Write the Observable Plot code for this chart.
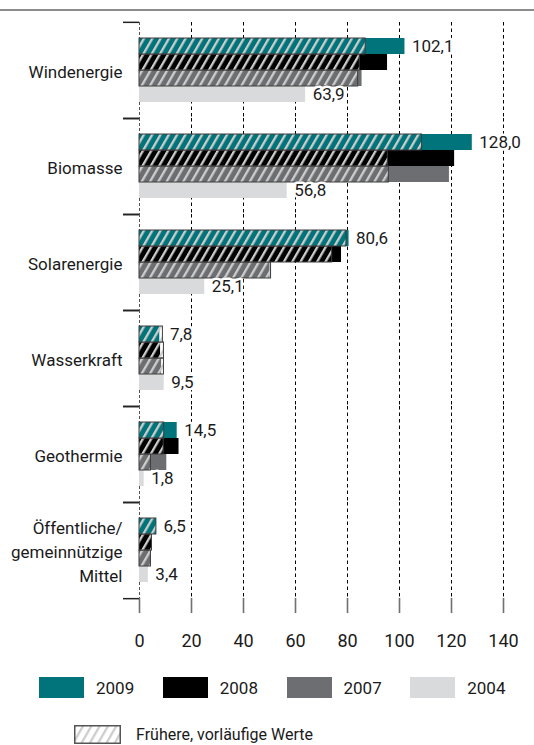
<!DOCTYPE html>
<html><head><meta charset="utf-8">
<script src="https://cdn.jsdelivr.net/npm/d3@7"></script>
<script src="https://cdn.jsdelivr.net/npm/@observablehq/plot@0.6"></script>
<style>
body{margin:0;background:#fff;font-family:Roboto,sans-serif;color:#1a1a1a;}
#wrap{width:534px;}
#topline{margin-top:9px;border-top:2px solid #8c8c8c;}
#chart svg{display:block;}
.legend{display:flex;align-items:center;font-size:17px;}
.item{display:flex;align-items:center;width:124.7px;}
.sw{width:45px;height:21px;margin-right:12px;flex:none;}
</style></head><body>
<div id="wrap">
<div id="topline"></div>
<div id="chart"></div>
<div class="legend" id="leg1" style="margin-top:16px;padding-left:39px;height:21px"></div>
<div class="legend" id="leg2" style="margin-top:27px;padding-left:74px;height:19px;font-size:16px"></div>
</div>
<script>
const categories = ["Windenergie","Biomasse","Solarenergie","Wasserkraft","Geothermie","Öffentliche/\ngemeinnützige\nMittel"];
const years = ["2009","2008","2007","2004"];
const colors = ["#00747a","#000000","#6d6e71","#d9dadb"];
const xTicks = [0,20,40,60,80,100,120,140];

// current values
const values2009 = [102.1, 128.0, 80.6, 7.8, 14.5, 6.5];
const values2008 = [95.4, 121.2, 77.7, 8.1, 15.2, 4.8];
const values2007 = [85.6, 119.2, 50.2, 8.5, 10.5, 4.4];
const values2004 = [63.9, 56.8, 25.1, 9.5, 1.8, 3.4];
// earlier, preliminary values (hatched)
const earlier2009 = [87.0, 108.7, 79.6, 9.0, 9.5, 6.5];
const earlier2008 = [84.7, 95.5, 74.1, 9.4, 9.3, 4.8];
const earlier2007 = [84.1, 95.9, 50.6, 9.4, 4.4, 4.4];

const current = {"2009": values2009, "2008": values2008, "2007": values2007, "2004": values2004};
const earlier = {"2009": earlier2009, "2008": earlier2008, "2007": earlier2007};

const bars = years.flatMap(yr => categories.map((c, i) => ({cat: c, year: yr, value: current[yr][i]})));
const prelim = Object.keys(earlier).flatMap(yr => categories.map((c, i) => ({cat: c, year: yr, value: earlier[yr][i]})));
const fmt = v => v.toFixed(1).replace(".", ",");
const labels = [
  ...categories.map((c, i) => ({cat: c, year: "2009", x: Math.max(values2009[i], earlier2009[i]), text: fmt(values2009[i])})),
  ...categories.map((c, i) => ({cat: c, year: "2004", x: values2004[i], text: fmt(values2004[i])}))
];

const W = 534, H = 650, mt = 10, mb = 62, ml = 139, mr = 31;
const bw = (H - mt - mb) / categories.length;

const svg = Plot.plot({
  width: W, height: H, marginTop: mt, marginBottom: mb, marginLeft: ml, marginRight: mr,
  style: {fontFamily: "Roboto, sans-serif", fontSize: "17px", color: "#1a1a1a", background: "#fff"},
  x: {domain: [0, 140], axis: null},
  y: {domain: years, paddingInner: 0, paddingOuter: 0.85, axis: null},
  fy: {domain: categories, padding: 0, axis: null},
  color: {domain: years, range: colors},
  marks: [
    Plot.gridX(xTicks.slice(1), {stroke: "#000", strokeOpacity: 1, strokeDasharray: "3.5,3"}),
    Plot.gridX([0], {stroke: "#555", strokeOpacity: 1, strokeDasharray: "3,2"}),
    Plot.barX(bars, {fy: "cat", y: "year", x: "value", fill: "year"}),
    Plot.barX(prelim, {fy: "cat", y: "year", x: "value", fill: "url(#hatch)", stroke: "#3c3c3c", strokeWidth: 1}),
    Plot.text(labels, {fy: "cat", y: "year", x: "x", text: "text", dx: 7, textAnchor: "start", fontSize: 17, fill: "#1a1a1a", stroke: "#fff", strokeWidth: 5, paintOrder: "stroke"}),
    Plot.axisX(xTicks, {anchor: "bottom", tickSize: 15, tickPadding: 21, stroke: "#707070", strokeWidth: 1.6, fontSize: 18, label: null}),
    Plot.axisFy({anchor: "left", tickSize: 0, tickPadding: 17, fontSize: 17, lineHeight: 1.4, label: null}),
    Plot.axisFy({anchor: "left", tickSize: 16, tickFormat: () => "", dy: -bw / 2, stroke: "#222", strokeWidth: 1.5, label: null}),
    Plot.axisFy([categories[categories.length - 1]], {anchor: "left", tickSize: 16, tickFormat: () => "", dy: bw / 2, stroke: "#222", strokeWidth: 1.5, label: null})
  ]
});

function addHatch(sel, id) {
  const defs = sel.insert("defs", ":first-child");
  const pat = defs.append("pattern").attr("id", id).attr("patternUnits", "userSpaceOnUse")
    .attr("width", 7.2).attr("height", 8).attr("patternTransform", "rotate(30)");
  pat.append("rect").attr("x", 0).attr("y", 0).attr("width", 2.3).attr("height", 8).attr("fill", "#cdcdcd");
}
addHatch(d3.select(svg), "hatch");
document.getElementById("chart").appendChild(svg);

const leg1 = d3.select("#leg1");
years.forEach((yr, i) => {
  const it = leg1.append("div").attr("class", "item");
  it.append("div").attr("class", "sw").style("background", colors[i]);
  it.append("span").text(yr);
});
const leg2 = d3.select("#leg2");
const ls = leg2.append("svg").attr("width", 47).attr("height", 19).style("margin-right", "15px").style("display", "block");
addHatch(ls, "hatchLegend");
ls.append("rect").attr("x", 0.75).attr("y", 0.75).attr("width", 45.5).attr("height", 17.5)
  .attr("fill", "url(#hatchLegend)").attr("stroke", "#555").attr("stroke-width", 1.5);
leg2.append("span").text("Frühere, vorläufige Werte");
</script>
</body></html>
